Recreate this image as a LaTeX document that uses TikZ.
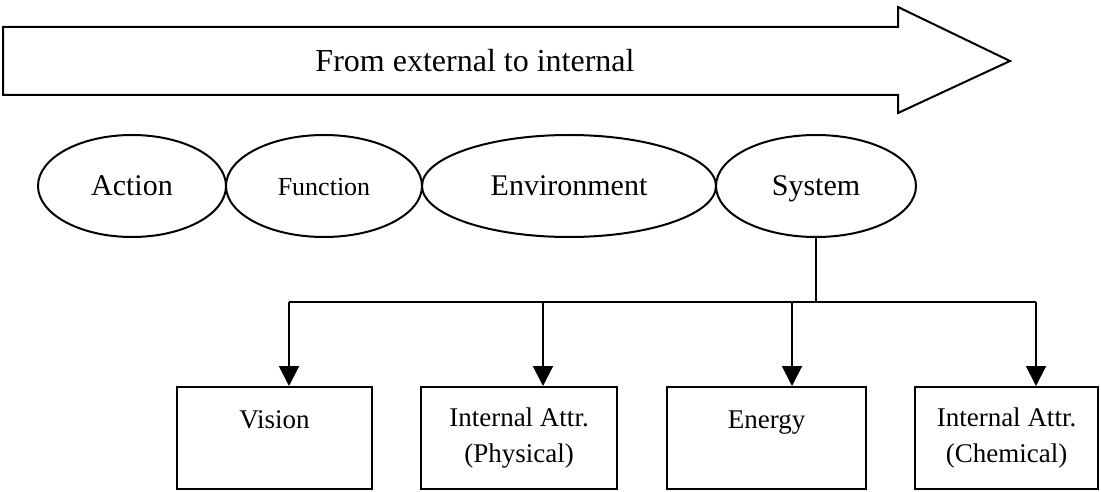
\documentclass[tikz,border=0pt]{standalone}
\usepackage{fontspec}
\setmainfont{Liberation Serif}
\usetikzlibrary{shapes.geometric,arrows.meta}
\begin{document}
\begin{tikzpicture}[x=1pt,y=-1pt,
  line width=2pt,
  oval/.style={ellipse, draw, inner sep=0pt, minimum height=102pt, text height=20pt, text depth=0pt, font=\fontsize{30}{36}\selectfont},
  boxnode/.style={rectangle, draw, inner sep=0pt, minimum height=102pt, align=center, font=\fontsize{27}{36}\selectfont},
  arr/.style={-{Triangle[width=20pt,length=20pt]}}]
\useasboundingbox (0,0) rectangle (1101,492);
% big arrow
\draw (3,27) -- (898,27) -- (898,7) -- (1010,61) -- (898,113) -- (898,95) -- (3,95) -- cycle;
\node[font=\fontsize{32}{36}\selectfont] (title) at (475,61) {From external to internal};
% ellipses
\node[oval, minimum width=188pt] (action) at (132,186) {Action};
\node[oval, minimum width=196pt, font=\fontsize{26}{30}\selectfont] (function) at (324,186) {Function};
\node[oval, minimum width=294pt] (env) at (569,186) {Environment};
\node[oval, minimum width=200pt] (sys) at (816,186) {System};
% boxes
\node[boxnode, minimum width=195pt] (vision) at (274.5,438) {Vision\\\phantom{X}};
\node[boxnode, minimum width=196pt] (phys) at (519,438) {Internal Attr.\\(Physical)};
\node[boxnode, minimum width=199pt] (energy) at (766.5,438) {Energy\\\phantom{X}};
\node[boxnode, minimum width=183pt] (chem) at (1006.5,438) {Internal Attr.\\(Chemical)};
% connectors
\coordinate (j) at (816,302);
\coordinate (b1) at (289,302);
\coordinate (b2) at (543,302);
\coordinate (b3) at (792,302);
\coordinate (b4) at (1036,302);
\draw (sys.south) -- (j);
\draw (b1) -- (b4);
\draw[arr] (b1) -- (b1 |- vision.north);
\draw[arr] (b2) -- (b2 |- phys.north);
\draw[arr] (b3) -- (b3 |- energy.north);
\draw[arr] (b4) -- (b4 |- chem.north);
\end{tikzpicture}
\end{document}
